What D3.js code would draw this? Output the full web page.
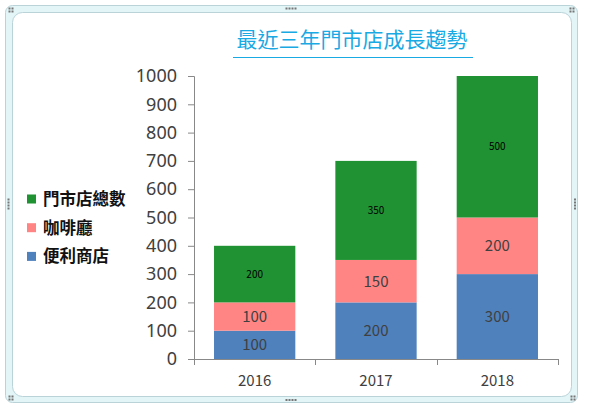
<!DOCTYPE html>
<html>
<head>
<meta charset="utf-8">
<script src="https://cdn.jsdelivr.net/npm/d3@7"></script>
<style>
  body { margin: 0; background: #fff; }
  text { font-family: "Noto Sans CJK TC", "Noto Sans", sans-serif; }
</style>
</head>
<body>
<div id="chart"></div>
<script>
// data
const years = ["2016", "2017", "2018"];
const seriesNames = ["便利商店", "咖啡廳", "門市店總數"];
const convenience = [100, 200, 300];
const cafe = [100, 150, 200];
const totalStores = [200, 350, 500];
const yTicks = [0, 100, 200, 300, 400, 500, 600, 700, 800, 900, 1000];
const colors = ["#4f81bd", "#ff8585", "#219233"];

const W = 600, H = 407;
const margin = {top: 76, right: 42, bottom: 48, left: 194};
const width = W - margin.left - margin.right,
      height = H - margin.top - margin.bottom;

const root = d3.select("#chart").append("svg")
    .attr("width", W).attr("height", H);

// frame
root.append("rect")
    .attr("x", 5.5).attr("y", 5.5).attr("width", 572).attr("height", 397)
    .attr("rx", 7).attr("fill", "#e3f5f7").attr("stroke", "#b9d3d8");
root.append("rect")
    .attr("x", 12.5).attr("y", 12.5).attr("width", 559).attr("height", 384)
    .attr("rx", 10).attr("fill", "#fff").attr("stroke", "#b9d3d8");

// little handles on the frame
function dots(cx, cy, horiz) {
    const pts = horiz ? [[-4.5,0],[-1.5,0],[1.5,0],[4.5,0]] : [[0,-4.5],[0,-1.5],[0,1.5],[0,4.5]];
    pts.forEach(p => root.append("rect").attr("x", cx + p[0] - 1).attr("y", cy + p[1] - 1)
        .attr("width", 2).attr("height", 2).attr("fill", "#777"));
}
function corner(cx, cy) {
    [[-1.5,-1.5],[1.5,-1.5],[-1.5,1.5],[1.5,1.5]].forEach(p => root.append("rect")
        .attr("x", cx + p[0] - 1).attr("y", cy + p[1] - 1)
        .attr("width", 2).attr("height", 2).attr("fill", "#777"));
}
dots(291, 8.5, true); dots(291, 400, true);
dots(8.5, 204, false); dots(575, 204, false);
corner(11, 10); corner(572, 10); corner(11, 398); corner(573, 398);

// title
root.append("text")
    .attr("x", 352).attr("y", 47)
    .attr("text-anchor", "middle")
    .attr("font-size", 21)
    .attr("fill", "#19a9e3")
    .text("最近三年門市店成長趨勢");
root.append("line")
    .attr("x1", 233).attr("x2", 473).attr("y1", 57.5).attr("y2", 57.5)
    .attr("stroke", "#19a9e3").attr("stroke-width", 1);

const svg = root.append("g")
    .attr("transform", `translate(${margin.left},${margin.top})`);

const table = years.map((y, i) => ({year: y, s0: convenience[i], s1: cafe[i], s2: totalStores[i]}));
const stacked = d3.stack().keys(["s0", "s1", "s2"])(table);

const x = d3.scaleBand().domain(years).range([0, width]).paddingInner(0.33).paddingOuter(0.165);
const y = d3.scaleLinear().domain([0, 1000]).range([height, 0]);

// y axis
const yAxis = svg.append("g")
    .call(d3.axisLeft(y).tickValues(yTicks).tickFormat(d3.format("d")).tickSize(6).tickPadding(11));
yAxis.select(".domain").attr("stroke", "#888");
yAxis.selectAll(".tick line").attr("stroke", "#888");
yAxis.selectAll("text").attr("font-size", 18).attr("fill", "#404040")
    .style("font-family", "'Segoe UI', 'Noto Sans', sans-serif");

// bars
const layers = svg.selectAll("g.layer").data(stacked).join("g")
    .attr("class", "layer")
    .attr("fill", (d, i) => colors[i]);
layers.selectAll("rect").data(d => d).join("rect")
    .attr("x", d => x(d.data.year))
    .attr("y", d => y(d[1]))
    .attr("width", x.bandwidth())
    .attr("height", d => y(d[0]) - y(d[1]));

// labels
stacked.forEach((layer, li) => {
    svg.selectAll("text.lab" + li).data(layer).join("text")
        .attr("class", "lab" + li)
        .attr("x", d => x(d.data.year) + x.bandwidth() / 2)
        .attr("y", d => (y(d[0]) + y(d[1])) / 2)
        .attr("dy", "0.36em")
        .attr("text-anchor", "middle")
        .attr("font-size", li === 2 ? 10 : 15)
        .attr("fill", li === 2 ? "#000" : "#404040")
        .text(d => d[1] - d[0]);
});

// x axis with ticks at band boundaries
const xAxis = svg.append("g").attr("transform", `translate(0,${height})`);
xAxis.append("line").attr("x1", 0).attr("x2", width).attr("y1", 0.5).attr("y2", 0.5)
    .attr("stroke", "#888");
const bounds = [0].concat(years.map(d => x(d) + x.bandwidth() + x.step() * x.paddingInner() / 2));
bounds[bounds.length - 1] = width;
xAxis.selectAll("line.tk").data(bounds).join("line")
    .attr("class", "tk")
    .attr("x1", d => Math.round(d) + 0.5).attr("x2", d => Math.round(d) + 0.5)
    .attr("y1", 0).attr("y2", 6).attr("stroke", "#888");
xAxis.selectAll("text").data(years).join("text")
    .attr("x", d => x(d) + x.bandwidth() / 2)
    .attr("y", 27)
    .attr("text-anchor", "middle")
    .attr("font-size", 15)
    .attr("fill", "#404040")
    .text(d => d);

// legend
const legendOrder = [2, 1, 0];
const legend = root.append("g").attr("transform", "translate(27,199)");
legendOrder.forEach((si, k) => {
    const g = legend.append("g").attr("transform", `translate(0,${k * 28.7})`);
    g.append("rect").attr("x", 0).attr("y", -4.5).attr("width", 9).attr("height", 9)
        .attr("fill", colors[si]);
    g.append("text").attr("x", 16).attr("y", 0).attr("dy", "0.36em")
        .attr("font-size", 16.5).attr("font-weight", "bold").attr("fill", "#111")
        .text(seriesNames[si]);
});
</script>
</body>
</html>
